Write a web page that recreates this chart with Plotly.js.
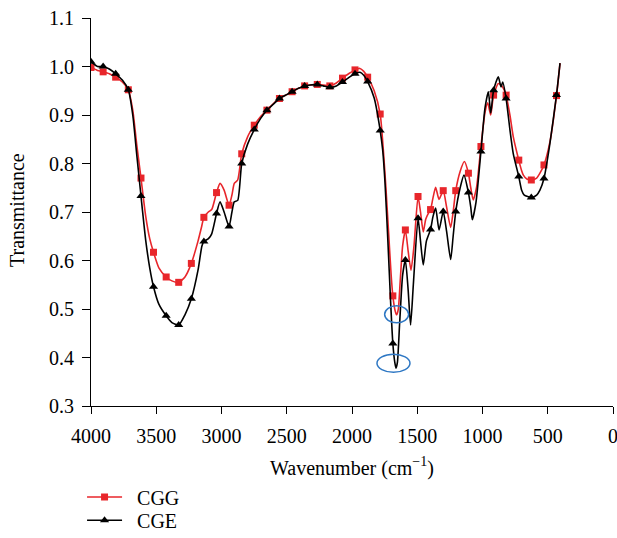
<!DOCTYPE html>
<html>
<head>
<meta charset="utf-8">
<script src="https://cdn.plot.ly/plotly-3.0.1.min.js"></script>
<style>html,body{margin:0;padding:0;background:#fff;}#chart{width:617px;height:538px;}</style>
</head>
<body>
<div id="chart"></div>
<script>
// Wavenumbers (cm^-1) and transmittance
const cggW = [4000,3950,3907,3860,3811,3760,3714,3680,3650,3617,3580,3550,3521,3480,3424,3380,3328,3280,3231,3180,3152,3135,3101,3075,3038,3011,2980,2942,2920,2902,2876,2845,2800,2749,2700,2652,2600,2556,2500,2459,2410,2363,2320,2266,2220,2170,2120,2073,2020,1977,1939,1910,1880,1830,1784,1760,1740,1720,1700,1687,1670,1658,1645,1630,1612,1591,1570,1548,1525,1494,1475,1454,1435,1415,1398,1380,1359,1333,1301,1275,1244,1225,1205,1172,1139,1108,1090,1071,1045,1012,981,960,937,915,879,860,840,819,790,764,722,700,687,660,626,585,560,529,483,433,406];
const cggT = [0.998,0.992,0.989,0.985,0.978,0.968,0.952,0.91,0.84,0.77,0.69,0.645,0.617,0.585,0.566,0.558,0.555,0.566,0.594,0.640,0.670,0.689,0.700,0.705,0.740,0.759,0.745,0.714,0.735,0.759,0.766,0.820,0.855,0.879,0.897,0.910,0.924,0.934,0.942,0.948,0.955,0.960,0.962,0.963,0.962,0.960,0.966,0.976,0.986,0.993,0.996,0.990,0.978,0.950,0.902,0.828,0.75,0.66,0.57,0.527,0.497,0.488,0.50,0.56,0.63,0.663,0.62,0.580,0.63,0.732,0.70,0.659,0.685,0.697,0.705,0.728,0.751,0.726,0.744,0.71,0.668,0.70,0.744,0.783,0.804,0.780,0.750,0.725,0.752,0.835,0.905,0.925,0.900,0.941,0.965,0.962,0.955,0.941,0.90,0.855,0.807,0.785,0.776,0.768,0.766,0.770,0.780,0.797,0.845,0.940,1.007];

const cgeW = [4000,3950,3907,3860,3811,3760,3714,3680,3650,3617,3580,3550,3521,3480,3424,3380,3328,3280,3231,3180,3150,3135,3100,3075,3038,3011,2980,2942,2920,2902,2876,2845,2800,2749,2700,2652,2600,2556,2500,2459,2410,2363,2320,2266,2220,2170,2120,2073,2020,1977,1939,1910,1880,1830,1784,1765,1747,1725,1705,1687,1672,1663,1652,1635,1612,1591,1570,1551,1530,1494,1475,1454,1430,1398,1380,1359,1333,1301,1275,1244,1225,1205,1172,1142,1108,1090,1078,1050,1012,981,955,937,915,879,858,845,819,790,764,722,700,680,626,585,560,529,483,433,406];
const cgeT = [1.010,1.000,1.000,0.995,0.985,0.972,0.952,0.90,0.82,0.733,0.64,0.585,0.546,0.51,0.486,0.472,0.467,0.488,0.521,0.58,0.630,0.639,0.645,0.655,0.697,0.721,0.70,0.670,0.700,0.721,0.724,0.800,0.840,0.870,0.893,0.910,0.923,0.934,0.942,0.948,0.955,0.960,0.962,0.963,0.960,0.957,0.960,0.968,0.978,0.985,0.988,0.982,0.969,0.935,0.868,0.828,0.76,0.64,0.52,0.429,0.39,0.378,0.39,0.47,0.57,0.601,0.54,0.467,0.55,0.687,0.64,0.591,0.640,0.664,0.69,0.708,0.663,0.701,0.66,0.602,0.65,0.701,0.749,0.776,0.740,0.71,0.684,0.72,0.825,0.914,0.948,0.904,0.951,0.979,0.958,0.968,0.934,0.87,0.82,0.773,0.745,0.735,0.730,0.735,0.745,0.769,0.842,0.941,1.007];

// Wavenumbers at which the symbols sit
const markW = [4000,3907,3811,3714,3617,3521,3424,3328,3231,3135,3038,2942,2845,2749,2652,2556,2459,2363,2266,2170,2073,1977,1880,1784,1687,1591,1494,1398,1301,1205,1108,1012,915,819,722,626,529,433];

const xTicks = [4000,3500,3000,2500,2000,1500,1000,500,0];
const yTicks = [0.3,0.4,0.5,0.6,0.7,0.8,0.9,1.0,1.1];

function marks(ws, ts){
  const x = [], y = [];
  markW.forEach(w => {
    const i = ws.indexOf(w);
    if (i >= 0) { x.push(ws[i], null); y.push(ts[i], null); }
  });
  return {x, y};
}
function argMin(ts){ let k = 0; ts.forEach((v,i)=>{ if (v < ts[k]) k = i; }); return k; }

const RED = '#e8262b', BLK = '#000000';
const FONT = '"Liberation Serif", "Times New Roman", serif';
const mG = marks(cggW, cggT), mE = marks(cgeW, cgeT);

const traces = [
  {x: cggW, y: cggT, mode: 'lines', line: {color: RED, width: 1.6, shape: 'spline', smoothing: 0.6}, showlegend: false, hoverinfo: 'skip'},
  {x: mG.x, y: mG.y, mode: 'lines+markers', name: '\u00a0\u00a0CGG', legend: 'legend', line: {color: RED, width: 1.5}, marker: {symbol: 'square', size: 7, color: RED}, connectgaps: false},
  {x: cgeW, y: cgeT, mode: 'lines', line: {color: BLK, width: 1.6, shape: 'spline', smoothing: 0.6}, showlegend: false, hoverinfo: 'skip'},
  {x: mE.x, y: mE.y, mode: 'lines+markers', name: '\u00a0\u00a0CGE', legend: 'legend2', line: {color: BLK, width: 1.5}, marker: {symbol: 'triangle-up', size: 8, color: BLK}, connectgaps: false}
];

const iG = argMin(cggT), iE = argMin(cgeT);
const BLUE = '#2f78c4';
const shapes = [
  {type: 'circle', xref: 'x', yref: 'y', xsizemode: 'pixel', ysizemode: 'pixel',
   xanchor: cggW[iG], yanchor: cggT[iG], x0: -12, x1: 12, y0: -8, y1: 9,
   line: {color: BLUE, width: 1.5}},
  {type: 'circle', xref: 'x', yref: 'y', xsizemode: 'pixel', ysizemode: 'pixel',
   xanchor: cgeW[iE], yanchor: cgeT[iE], x0: -19, x1: 14, y0: -4, y1: 14,
   line: {color: BLUE, width: 1.5}}
];

const legBase = {xref: 'container', yref: 'container', xanchor: 'left', yanchor: 'middle', bgcolor: 'rgba(0,0,0,0)', font: {family: FONT, size: 20, color: '#000'}, itemwidth: 35};
const layout = {
  width: 617, height: 538,
  margin: {l: 91, r: 4, t: 18, b: 132, autoexpand: false},
  paper_bgcolor: '#fff', plot_bgcolor: '#fff',
  font: {family: FONT, size: 20, color: '#000'},
  showlegend: true,
  legend: Object.assign({x: 0.133, y: 0.076}, legBase),
  legend2: Object.assign({x: 0.133, y: 0.033}, legBase),
  xaxis: {
    range: [4000, 0], tickvals: xTicks, ticktext: xTicks.map(String),
    showgrid: false, zeroline: false, showline: true, linecolor: '#000', linewidth: 1,
    ticks: 'outside', ticklen: 7, tickcolor: '#000', tickfont: {family: FONT, size: 20, color: '#000'},
    ticklabelstandoff: 5, ticklabeloverflow: 'allow',
    title: {text: 'Wavenumber (cm<sup>\u22121</sup>)', font: {family: FONT, size: 20, color: '#000'}, standoff: 14},
    fixedrange: true
  },
  yaxis: {
    range: [0.3, 1.1], tickvals: yTicks, ticktext: yTicks.map(v => v.toFixed(1)),
    showgrid: false, zeroline: false, showline: true, linecolor: '#000', linewidth: 1,
    ticks: 'outside', ticklen: 8, tickcolor: '#000', tickfont: {family: FONT, size: 20, color: '#000'},
    ticklabelstandoff: 4, ticklabeloverflow: 'allow',
    fixedrange: true
  },
  annotations: [
    {text: 'Transmittance', xref: 'paper', yref: 'paper', x: -0.1418, y: 0.505,
     xanchor: 'center', yanchor: 'middle', textangle: -90, showarrow: false,
     font: {family: FONT, size: 20, color: '#000'}}
  ],
  shapes: shapes
};

Plotly.newPlot('chart', traces, layout, {displayModeBar: false, staticPlot: true});
</script>
</body>
</html>
